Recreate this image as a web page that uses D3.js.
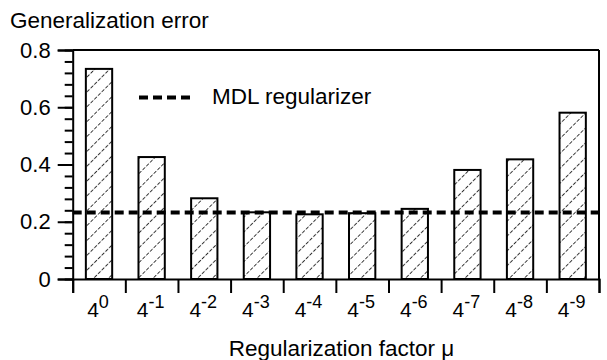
<!DOCTYPE html>
<html>
<head>
<meta charset="utf-8">
<script src="https://cdn.jsdelivr.net/npm/d3@7"></script>
<style>
  body { margin: 0; background: #fff; }
  text { font-family: "Liberation Sans", Arial, sans-serif; fill: #000; }
</style>
</head>
<body>
<svg id="chart" width="607" height="360"></svg>
<script>
// exponents of 4 on the x axis
const exponents = ["0", "-1", "-2", "-3", "-4", "-5", "-6", "-7", "-8", "-9"];
const errors = [0.734, 0.426, 0.282, 0.233, 0.226, 0.230, 0.245, 0.381, 0.418, 0.581];
const mdlError = [0.232];
const yTicks = [0, 0.2, 0.4, 0.6, 0.8];
const yTickLabels = ["0", "0.2", "0.4", "0.6", "0.8"];

const svg = d3.select("#chart");
const plotL = 72.7, plotR = 599, plotT = 50, plotB = 279;

const x = d3.scaleBand()
    .domain(exponents)
    .range([plotL, plotR])
    .paddingInner(0.5)
    .paddingOuter(0.25);

const xTickScale = d3.scaleLinear().domain([0, exponents.length]).range([plotL, plotR]);

const y = d3.scaleLinear().domain([0, 0.8]).range([plotB, plotT]);

// hatch pattern
const defs = svg.append("defs");
defs.append("pattern")
    .attr("id", "hatch")
    .attr("patternUnits", "userSpaceOnUse")
    .attr("width", 10.5)
    .attr("height", 10.5)
    .attr("patternTransform", "rotate(45)")
  .append("line")
    .attr("x1", 0).attr("y1", 0)
    .attr("x2", 0).attr("y2", 10.5)
    .attr("stroke", "#222")
    .attr("stroke-width", 1.8)
    .attr("stroke-dasharray", "3.5,1.75");

// bars
svg.append("g")
  .selectAll("rect")
  .data(errors)
  .join("rect")
    .attr("x", (d, i) => x(exponents[i]))
    .attr("y", d => y(d))
    .attr("width", x.bandwidth())
    .attr("height", d => y(0) - y(d))
    .attr("fill", "url(#hatch)")
    .attr("stroke", "#000")
    .attr("stroke-width", 2);

// frame top and right
svg.append("line")
    .attr("x1", plotL).attr("x2", plotR)
    .attr("y1", plotT).attr("y2", plotT)
    .attr("stroke", "#000").attr("stroke-width", 2);
svg.append("line")
    .attr("x1", plotR).attr("x2", plotR)
    .attr("y1", plotT).attr("y2", plotB)
    .attr("stroke", "#000").attr("stroke-width", 2);

// y axis, minor ticks first
svg.append("g")
    .attr("transform", `translate(${plotL},0)`)
    .call(d3.axisLeft(y).tickValues(d3.range(0, 0.81, 0.04)).tickSize(8).tickFormat(""))
    .call(g => g.select(".domain").remove())
    .call(g => g.selectAll("line").attr("stroke-width", 2));

const yAxis = svg.append("g")
    .attr("transform", `translate(${plotL},0)`)
    .call(d3.axisLeft(y).tickValues(yTicks).tickSize(15).tickPadding(7)
        .tickFormat((d, i) => yTickLabels[i]));
yAxis.select(".domain").attr("stroke-width", 2);
yAxis.selectAll("line").attr("stroke-width", 2);
yAxis.selectAll("text").style("font-size", "22px").attr("fill", "#000");

// x axis
const xAxis = svg.append("g")
    .attr("transform", `translate(0,${plotB})`)
    .call(d3.axisBottom(xTickScale).ticks(exponents.length).tickSize(14).tickFormat(""));
xAxis.select(".domain").attr("stroke-width", 2);
xAxis.selectAll("line").attr("stroke-width", 2);

// x labels 4^n
const lbl = svg.append("g")
  .selectAll("text")
  .data(exponents)
  .join("text")
    .attr("x", d => x(d) + x.bandwidth() / 2 - 1)
    .attr("y", 317)
    .attr("text-anchor", "middle")
    .style("font-size", "21px");
lbl.append("tspan").text("4");
lbl.append("tspan")
    .attr("dy", -9)
    .style("font-size", "18px")
    .text(d => d);

// MDL line
svg.append("line")
    .attr("x1", plotL).attr("x2", plotR)
    .attr("y1", y(mdlError[0])).attr("y2", y(mdlError[0]))
    .attr("stroke", "#000")
    .attr("stroke-width", 4)
    .attr("stroke-dasharray", "9,5");

// legend
svg.append("line")
    .attr("x1", 139).attr("x2", 192)
    .attr("y1", 97.5).attr("y2", 97.5)
    .attr("stroke", "#000")
    .attr("stroke-width", 4)
    .attr("stroke-dasharray", "9,5");
svg.append("text")
    .attr("x", 212).attr("y", 104)
    .style("font-size", "22.5px")
    .text("MDL regularizer");

// axis titles
svg.append("text")
    .attr("x", 10).attr("y", 28)
    .style("font-size", "22.5px")
    .text("Generalization error");
svg.append("text")
    .attr("x", 341.5).attr("y", 356)
    .attr("text-anchor", "middle")
    .style("font-size", "22.5px")
    .text("Regularization factor μ");
</script>
</body>
</html>
